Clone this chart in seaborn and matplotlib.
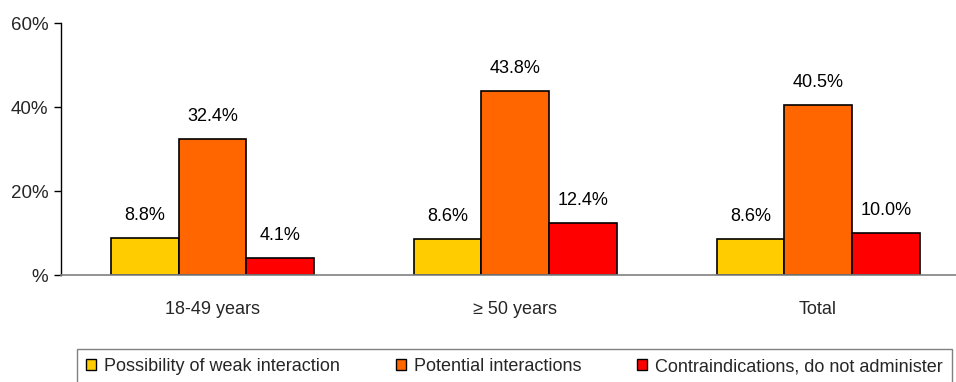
import matplotlib
matplotlib.use("Agg")
import matplotlib.pyplot as plt
import seaborn as sns
import pandas as pd

groups = ["18-49 years", "\u2265 50 years", "Total"]
series = ["Possibility of weak interaction", "Potential interactions",
          "Contraindications, do not administer"]
weak = [8.8, 8.6, 8.6]
potential = [32.4, 43.8, 40.5]
contra = [4.1, 12.4, 10.0]
y_ticks = [0, 20, 40, 60]
y_tick_labels = ["%", "20%", "40%", "60%"]
colors = ["#FFCC00", "#FF6600", "#FF0000"]

df = pd.DataFrame({
    "group": groups * 3,
    "series": [series[0]] * 3 + [series[1]] * 3 + [series[2]] * 3,
    "value": weak + potential + contra,
})

sns.set_style("white")
plt.rcParams["font.family"] = ["Liberation Sans", "DejaVu Sans"]

W, H = 956, 382
fig = plt.figure(figsize=(W / 100, H / 100), dpi=100)
ax = fig.add_axes([61 / W, (H - 275) / H, (W - 61) / W, 252 / H])

sns.barplot(data=df, x="group", y="value", hue="series", order=groups,
            hue_order=series, palette=colors, edgecolor="black",
            linewidth=1.2, width=0.67, gap=0, ax=ax, errorbar=None,
            saturation=1)

for cont in ax.containers:
    vals = [b.get_height() for b in cont]
    ax.bar_label(cont, labels=[f"{v:.1f}%" for v in vals], padding=10,
                 fontsize=13, color="black")

ax.set_ylim(0, 60)
ax.set_xlim(-0.5, (W - 212) / 303)
ax.set_yticks(y_ticks)
ax.set_yticklabels(y_tick_labels, fontsize=13.5)
ax.set_xlabel("")
ax.set_ylabel("")
ax.tick_params(axis="y", direction="out", length=5, width=1, color="black",
               left=True, pad=4)
ax.tick_params(axis="x", length=0, pad=19, labelsize=13)

for side in ["top", "right"]:
    ax.spines[side].set_visible(False)
ax.spines["left"].set_color("black")
ax.spines["left"].set_linewidth(1)
ax.spines["bottom"].set_color("#808080")
ax.spines["bottom"].set_linewidth(1.2)

handles, labels = ax.get_legend_handles_labels()
ax.legend_.remove()
leg = fig.legend(handles, labels, loc="upper left",
                 bbox_to_anchor=(77 / W, (H - 349) / H, (952 - 77) / W, 0),
                 mode="expand", ncol=3, fontsize=13, frameon=True,
                 fancybox=False, edgecolor="#606060", handlelength=0.55,
                 handleheight=0.55, handletextpad=0.45, borderaxespad=0,
                 borderpad=0.5, columnspacing=2.0)
leg.get_frame().set_linewidth(1)
for h in leg.legend_handles:
    h.set_edgecolor("black")
    h.set_linewidth(1)

fig.savefig("out.png", dpi=100)
